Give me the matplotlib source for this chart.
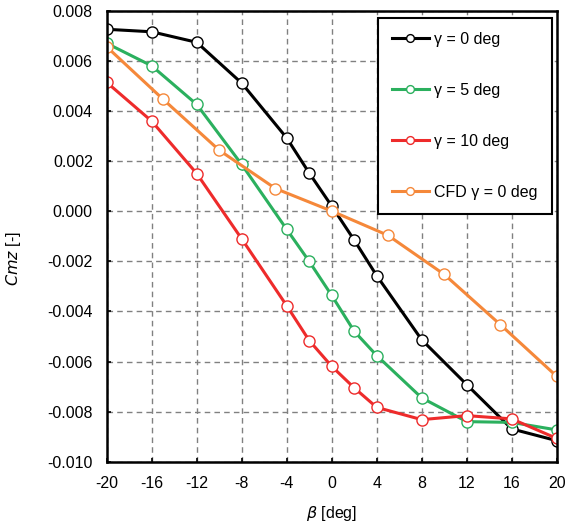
import numpy as np
import matplotlib.pyplot as plt
from matplotlib.ticker import FormatStrFormatter

plt.rcParams['font.family'] = ['Liberation Sans', 'DejaVu Sans']
plt.rcParams['axes.unicode_minus'] = False

beta = [-20, -16, -12, -8, -4, -2, 0, 2, 4, 8, 12, 16, 20]
cmz_g0 = [0.00727, 0.00717, 0.00675, 0.00512, 0.00293, 0.00153, 0.00021,
          -0.00115, -0.00257, -0.00513, -0.00692, -0.00869, -0.00916]
cmz_g5 = [0.00671, 0.00581, 0.00427, 0.00187, -0.00072, -0.00200, -0.00336,
          -0.00479, -0.00576, -0.00745, -0.00840, -0.00843, -0.00873]
cmz_g10 = [0.00515, 0.00360, 0.00151, -0.00110, -0.00377, -0.00516, -0.00619,
           -0.00705, -0.00783, -0.00832, -0.00816, -0.00829, -0.00907]

beta_cfd = [-20, -15, -10, -5, 0, 5, 10, 15, 20]
cmz_cfd = [0.00657, 0.00448, 0.00244, 0.00091, 0.00001, -0.00096, -0.00252,
           -0.00453, -0.00659]

series = [
    (beta, cmz_g0, '#000000', 'γ = 0 deg'),
    (beta, cmz_g5, '#2bb05e', 'γ = 5 deg'),
    (beta, cmz_g10, '#ee2b2b', 'γ = 10 deg'),
    (beta_cfd, cmz_cfd, '#f5883a', 'CFD γ = 0 deg'),
]

fig = plt.figure(figsize=(5.68, 5.24), dpi=100)
ax = fig.add_axes([106.7 / 568, 1 - 461.7 / 524, 450 / 568, 450.7 / 524])

for x, y, c, lab in series:
    ax.plot(x, y, color=c, lw=2.2, marker='o', ms=8, mfc='white', mec=c,
            mew=1.0, label=lab)

ax.set_xlim(-20, 20)
ax.set_ylim(-0.010, 0.008)
ax.set_xticks(np.arange(-20, 21, 4))
ax.set_yticks(np.arange(-0.010, 0.0081, 0.002))
ax.yaxis.set_major_formatter(FormatStrFormatter('%.3f'))
ax.tick_params(direction='in', length=3, width=1.2, labelsize=11.5, pad=10)
ax.grid(True, ls=(0, (4, 3)), color='#808080', lw=1.0)
for s in ax.spines.values():
    s.set_linewidth(1.8)

ax.set_xlabel(r'$\it{\beta}$ [deg]', fontsize=11.5, labelpad=10)
ax.set_ylabel(r'$\it{Cmz}$ [-]', fontsize=11.5)
ax.yaxis.set_label_coords(-0.186, 0.451)

leg = ax.legend(loc='upper left', bbox_to_anchor=(377.7 / 568, 1 - 17.7 / 524),
                bbox_transform=fig.transFigure, borderaxespad=0,
                fontsize=11.5, fancybox=False, edgecolor='black',
                framealpha=1, labelspacing=2.25, handlelength=2.3,
                borderpad=0.9, handletextpad=0.35, markerscale=0.7)
leg.get_frame().set_linewidth(1.5)

plt.savefig('out.png', dpi=100)
